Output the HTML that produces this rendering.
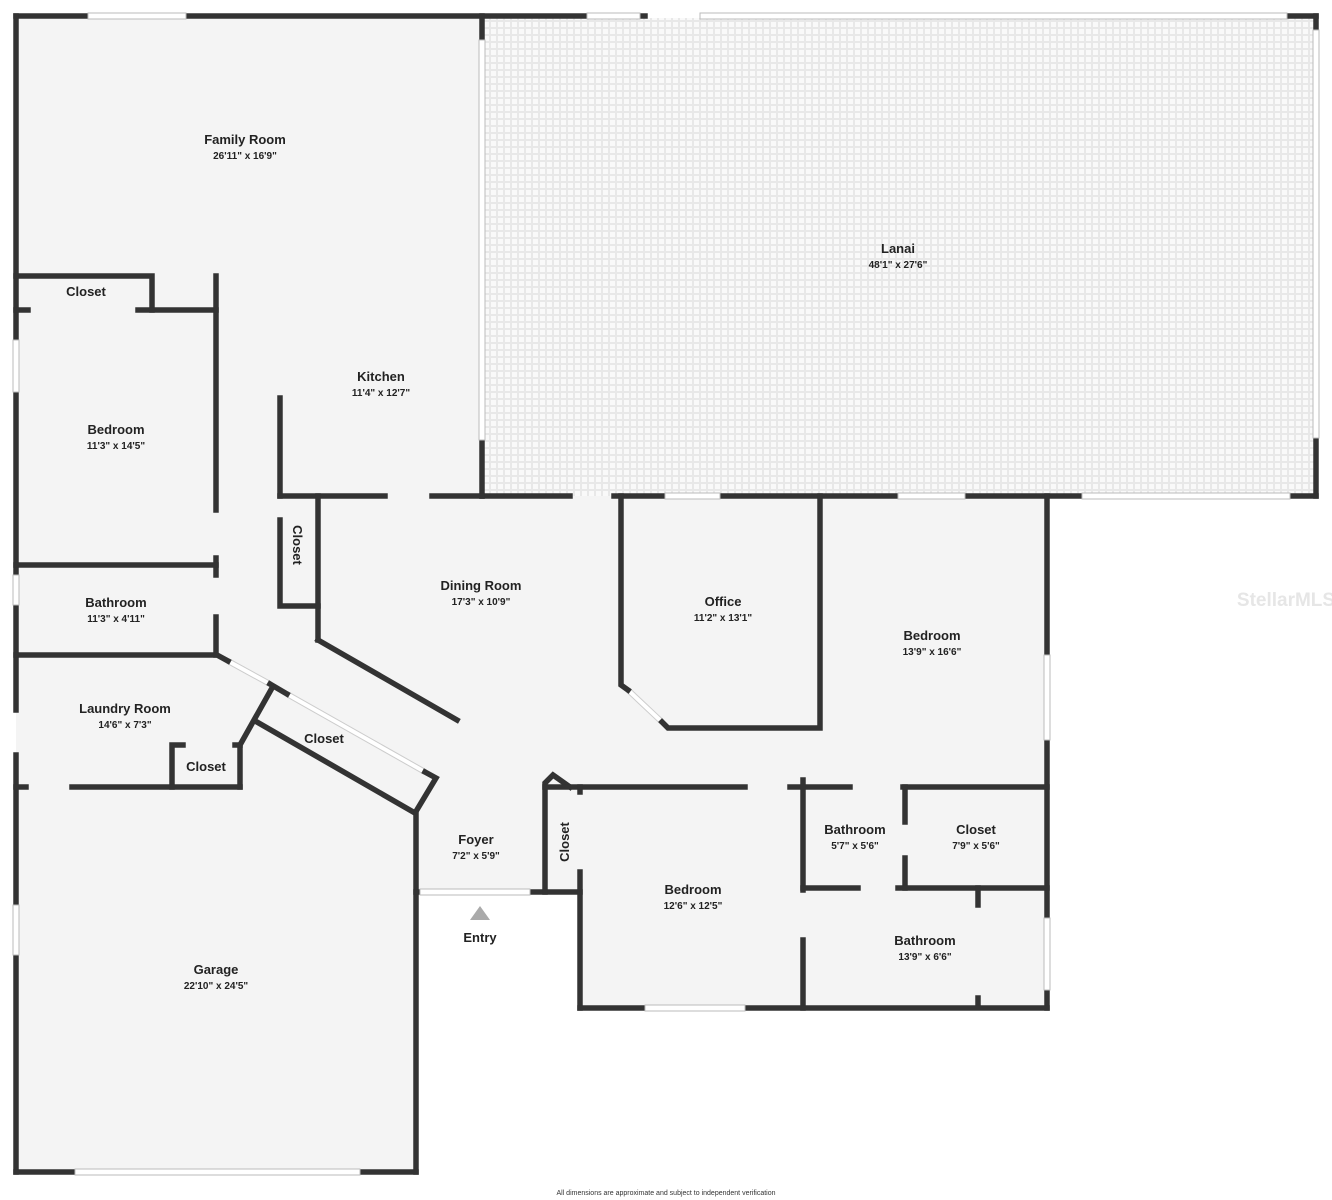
<!DOCTYPE html>
<html><head><meta charset="utf-8"><style>
html,body{margin:0;padding:0;background:#fff;}
svg{display:block;}
text{font-family:"Liberation Sans",sans-serif;fill:#222;text-anchor:middle;}
.n{font-size:13px;font-weight:bold;}
.d{font-size:10px;font-weight:bold;}
</style></head><body>
<svg width="1332" height="1200" viewBox="0 0 1332 1200" xmlns="http://www.w3.org/2000/svg">
<defs>
<pattern id="tile" width="7" height="7" patternUnits="userSpaceOnUse">
<rect width="7" height="7" fill="#e8e8e8"/>
<rect x="1" y="1" width="5" height="5" fill="#f9f9f9"/>
</pattern>
</defs>
<g fill="#f4f4f4">
<rect x="16" y="16" width="466" height="640"/>
<rect x="216" y="300" width="590" height="490"/>
<rect x="16" y="650" width="400" height="522"/>
<rect x="400" y="700" width="180" height="192"/>
<rect x="580" y="496" width="467" height="512"/>
</g>
<rect x="482" y="18" width="834" height="478" fill="url(#tile)"/>
<!-- diagonal windows -->
<g stroke-linecap="butt">
<g stroke="#ccc" stroke-width="6">
<line x1="228" y1="661" x2="270" y2="684"/>
<line x1="287" y1="694" x2="425" y2="772"/>
<line x1="628" y1="690" x2="662" y2="722"/>
</g>
<g stroke="#fff" stroke-width="4">
<line x1="228" y1="661" x2="270" y2="684"/>
<line x1="287" y1="694" x2="425" y2="772"/>
<line x1="628" y1="690" x2="662" y2="722"/>
</g>
</g>
<g stroke="#333" stroke-width="5.5" fill="none" stroke-linecap="square">
<polyline points="16,16 88,16"/><polyline points="186,16 587,16"/><polyline points="640,16 645,16"/><polyline points="1287,16 1316,16"/>
<line x1="482" y1="16" x2="482" y2="40"/>
<line x1="16" y1="16" x2="16" y2="340"/><line x1="16" y1="392" x2="16" y2="575"/><line x1="16" y1="605" x2="16" y2="710"/><line x1="16" y1="755" x2="16" y2="905"/><line x1="16" y1="955" x2="16" y2="1172"/>
<line x1="1316" y1="16" x2="1316" y2="30"/><line x1="1316" y1="438" x2="1316" y2="496"/>
<line x1="482" y1="496" x2="570" y2="496"/><line x1="614" y1="496" x2="665" y2="496"/><line x1="720" y1="496" x2="898" y2="496"/><line x1="965" y1="496" x2="1082" y2="496"/><line x1="1290" y1="496" x2="1316" y2="496"/>
<line x1="482" y1="440" x2="482" y2="496"/>
<polyline points="16,276 152,276 152,310"/>
<line x1="16" y1="310" x2="28" y2="310"/><line x1="138" y1="310" x2="216" y2="310"/>
<line x1="216" y1="276" x2="216" y2="510"/><line x1="216" y1="558" x2="216" y2="575"/><line x1="216" y1="617" x2="216" y2="655"/>
<line x1="16" y1="565" x2="216" y2="565"/>
<polyline points="16,655 217,655 228,661"/>
<line x1="280" y1="398" x2="280" y2="496"/>
<line x1="280" y1="496" x2="385" y2="496"/><line x1="432" y1="496" x2="482" y2="496"/>
<polyline points="280,520 280,606 318,606"/>
<line x1="318" y1="496" x2="318" y2="640"/>
<line x1="318" y1="640" x2="457" y2="720"/>
<polyline points="270,684 287,694"/>
<polyline points="272,688 240,745 240,787"/>
<polyline points="183,745 172,745 172,787"/>
<line x1="235" y1="745" x2="240" y2="745"/>
<line x1="16" y1="787" x2="26" y2="787"/><line x1="72" y1="787" x2="240" y2="787"/>
<polyline points="257,722 415,813 436,778 425,772"/>
<line x1="416" y1="813" x2="416" y2="1172"/>
<line x1="16" y1="1172" x2="75" y2="1172"/><line x1="360" y1="1172" x2="416" y2="1172"/>
<line x1="416" y1="892" x2="420" y2="892"/><line x1="530" y1="892" x2="580" y2="892"/>
<polyline points="545,892 545,783 553,775 570,787"/>
<line x1="545" y1="787" x2="745" y2="787"/><line x1="790" y1="787" x2="850" y2="787"/>
<line x1="580" y1="787" x2="580" y2="792"/><line x1="580" y1="872" x2="580" y2="1008"/>
<polyline points="621,496 621,685 628,690"/>
<polyline points="662,722 668,728 820,728 820,496"/>
<line x1="1047" y1="496" x2="1047" y2="655"/><line x1="1047" y1="740" x2="1047" y2="918"/><line x1="1047" y1="990" x2="1047" y2="1008"/>
<line x1="803" y1="780" x2="803" y2="890"/><line x1="803" y1="940" x2="803" y2="1008"/>
<line x1="903" y1="787" x2="1047" y2="787"/>
<line x1="905" y1="787" x2="905" y2="822"/><line x1="905" y1="858" x2="905" y2="888"/>
<line x1="803" y1="888" x2="858" y2="888"/><line x1="898" y1="888" x2="1047" y2="888"/>
<line x1="978" y1="888" x2="978" y2="905"/><line x1="978" y1="998" x2="978" y2="1005"/>
<line x1="580" y1="1008" x2="645" y2="1008"/><line x1="745" y1="1008" x2="1047" y2="1008"/>
</g>
<g stroke="#bbb" stroke-width="1" fill="#fff">
<rect x="88" y="13" width="98" height="6"/><rect x="587" y="13" width="53" height="6"/><rect x="700" y="13" width="587" height="6"/>
<rect x="1313" y="30" width="6" height="408"/><rect x="479" y="40" width="6" height="400"/>
<rect x="13" y="340" width="6" height="52"/><rect x="13" y="575" width="6" height="30"/><rect x="13" y="905" width="6" height="50"/>
<rect x="665" y="493" width="55" height="6"/><rect x="898" y="493" width="67" height="6"/><rect x="1082" y="493" width="208" height="6"/>
<rect x="645" y="1005" width="100" height="6"/><rect x="1044" y="918" width="6" height="72"/>
<rect x="1044" y="655" width="6" height="85"/>
<rect x="75" y="1169" width="285" height="6"/>
<rect x="420" y="889" width="110" height="6"/>
</g>
<polygon points="480,906 470,920 490,920" fill="#aaa"/>
<text class="n" x="245" y="144">Family Room</text><text class="d" x="245" y="159">26'11" x 16'9"</text>
<text class="n" x="898" y="253">Lanai</text><text class="d" x="898" y="268">48'1" x 27'6"</text>
<text class="n" x="86" y="296">Closet</text>
<text class="n" x="381" y="381">Kitchen</text><text class="d" x="381" y="396">11'4" x 12'7"</text>
<text class="n" x="116" y="434">Bedroom</text><text class="d" x="116" y="449">11'3" x 14'5"</text>
<text class="n" x="116" y="607">Bathroom</text><text class="d" x="116" y="622">11'3" x 4'11"</text>
<text class="n" transform="translate(293,545) rotate(90)">Closet</text>
<text class="n" x="481" y="590">Dining Room</text><text class="d" x="481" y="605">17'3" x 10'9"</text>
<text class="n" x="723" y="606">Office</text><text class="d" x="723" y="621">11'2" x 13'1"</text>
<text class="n" x="932" y="640">Bedroom</text><text class="d" x="932" y="655">13'9" x 16'6"</text>
<text class="n" x="125" y="713">Laundry Room</text><text class="d" x="125" y="728">14'6" x 7'3"</text>
<text class="n" x="324" y="743">Closet</text>
<text class="n" x="206" y="771">Closet</text>
<text class="n" x="476" y="844">Foyer</text><text class="d" x="476" y="859">7'2" x 5'9"</text>
<text class="n" transform="translate(569,842) rotate(-90)">Closet</text>
<text class="n" x="855" y="834">Bathroom</text><text class="d" x="855" y="849">5'7" x 5'6"</text>
<text class="n" x="976" y="834">Closet</text><text class="d" x="976" y="849">7'9" x 5'6"</text>
<text class="n" x="693" y="894">Bedroom</text><text class="d" x="693" y="909">12'6" x 12'5"</text>
<text class="n" x="480" y="942">Entry</text>
<text class="n" x="925" y="945">Bathroom</text><text class="d" x="925" y="960">13'9" x 6'6"</text>
<text class="n" x="216" y="974">Garage</text><text class="d" x="216" y="989">22'10" x 24'5"</text>
<text x="666" y="1195" style="font-size:7px;fill:#333">All dimensions are approximate and subject to independent verification</text>
<text x="1286" y="606" style="font-size:19px;fill:#e6e6e6;font-weight:bold">StellarMLS</text>
</svg>
</body></html>
